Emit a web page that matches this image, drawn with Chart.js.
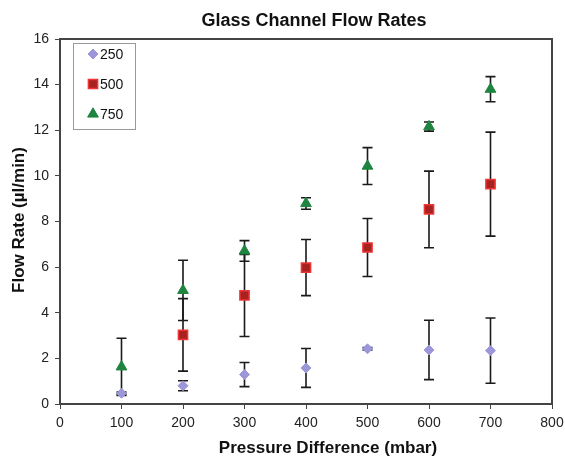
<!DOCTYPE html>
<html>
<head>
  <title>Glass Channel Flow Rates</title>
  <script src="https://cdn.jsdelivr.net/npm/chart.js"></script>
  <style>
    body { margin: 0; background: #fff; }
    #wrap { width: 565px; height: 456px; }
  </style>
</head>
<body>
  <div id="wrap"><canvas id="flowChart" width="565" height="456"></canvas></div>

  <script>
    // pressure difference (mbar)
    const pressures = [100, 200, 300, 400, 500, 600, 700];
    // flow rates (ul/min) and error half-widths
    const flow250 = [0.47, 0.80, 1.29, 1.58, 2.42, 2.37, 2.34];
    const err250  = [0.05, 0.22, 0.53, 0.85, 0.05, 1.30, 1.43];
    const flow500 = [null, 3.03, 4.76, 5.98, 6.86, 8.53, 9.64];
    const err500  = [null, 1.59, 1.80, 1.23, 1.27, 1.68, 2.28];
    const flow750 = [1.63, 4.98, 6.71, 8.79, 10.43, 12.16, 13.80];
    const err750  = [1.25, 1.32, 0.45, 0.25, 0.81, 0.20, 0.55];
    const xTicks = [0, 100, 200, 300, 400, 500, 600, 700, 800];
    const yTicks = [0, 2, 4, 6, 8, 10, 12, 14, 16];

    const font = "'Liberation Sans', Arial, sans-serif";

    function pts(vals, errs) {
      return pressures.map((p, i) => ({ x: p, y: vals[i], e: errs[i] }))
        .filter(d => d.y !== null);
    }

    // vertical error bars with caps, drawn under the markers
    const errorBars = {
      id: 'errorBars',
      beforeDatasetsDraw(chart) {
        const { ctx, scales: { x, y } } = chart;
        ctx.save();
        ctx.strokeStyle = '#1a1a1a';
        ctx.lineWidth = 1.6;
        chart.data.datasets.forEach(ds => {
          ds.data.forEach(d => {
            if (!d.e) return;
            const px = x.getPixelForValue(d.x);
            const top = y.getPixelForValue(d.y + d.e);
            const bot = y.getPixelForValue(d.y - d.e);
            ctx.beginPath();
            ctx.moveTo(px, top); ctx.lineTo(px, bot);
            ctx.moveTo(px - 5, top); ctx.lineTo(px + 5, top);
            ctx.moveTo(px - 5, bot); ctx.lineTo(px + 5, bot);
            ctx.stroke();
          });
        });
        ctx.restore();
      }
    };

    // frame, titles and boxed legend
    const decor = {
      id: 'decor',
      afterDraw(chart) {
        const { ctx, chartArea: a } = chart;
        ctx.save();
        ctx.strokeStyle = '#444';
        ctx.lineWidth = 2;
        ctx.strokeRect(a.left, a.top, a.right - a.left, a.bottom - a.top);

        ctx.fillStyle = '#111';
        ctx.textAlign = 'center';
        ctx.textBaseline = 'middle';
        ctx.font = 'bold 18px ' + font;
        ctx.fillText('Glass Channel Flow Rates', 314, 21);
        ctx.font = 'bold 17px ' + font;
        ctx.fillText('Pressure Difference (mbar)', 328, 448);
        ctx.save();
        ctx.translate(19, 220);
        ctx.rotate(-Math.PI / 2);
        ctx.fillText('Flow Rate (\u00b5l/min)', 0, 0);
        ctx.restore();

        // legend
        ctx.strokeStyle = '#999';
        ctx.lineWidth = 1;
        ctx.strokeRect(73.5, 43.5, 62, 86);
        ctx.font = '14px ' + font;
        ctx.textAlign = 'left';
        chart.data.datasets.forEach((ds, i) => {
          const cy = 54 + i * 30;
          ctx.fillStyle = ds.backgroundColor;
          ctx.strokeStyle = ds.borderColor;
          ctx.lineWidth = ds.borderWidth;
          Chart.helpers.drawPoint(ctx, { pointStyle: ds.pointStyle, radius: ds.pointRadius, borderWidth: ds.borderWidth }, 93, cy);
          ctx.fillStyle = '#111';
          ctx.fillText(ds.label, 100, cy + 1);
        });
        ctx.restore();
      }
    };

    new Chart(document.getElementById('flowChart'), {
      type: 'scatter',
      data: {
        datasets: [
          { label: '250', data: pts(flow250, err250), pointStyle: 'rectRot', pointRadius: 5,
            backgroundColor: '#9b97d9', borderColor: '#9b97d9', borderWidth: 1 },
          { label: '500', data: pts(flow500, err500), pointStyle: 'rect', pointRadius: 6.5,
            backgroundColor: '#a82222', borderColor: '#f03535', borderWidth: 1.5 },
          { label: '750', data: pts(flow750, err750), pointStyle: 'triangle', pointRadius: 6.2,
            backgroundColor: '#1e8440', borderColor: '#1e8440', borderWidth: 1 }
        ]
      },
      options: {
        responsive: false,
        animation: false,
        events: [],
        layout: { padding: { left: 0, right: 13, top: 39, bottom: 0 } },
        plugins: { legend: { display: false }, title: { display: false }, tooltip: { enabled: false } },
        scales: {
          x: {
            type: 'linear', min: 0, max: 800,
            afterFit(s) { s.height = 52; s.paddingLeft = 0; s.paddingRight = 0; },
            afterBuildTicks(s) { s.ticks = xTicks.map(v => ({ value: v })); },
            grid: { drawOnChartArea: false, drawTicks: true, tickLength: 5, color: '#444' },
            border: { display: true, color: '#444', width: 2 },
            ticks: { color: '#222', font: { family: font, size: 14 }, padding: 6, maxRotation: 0 }
          },
          y: {
            type: 'linear', min: 0, max: 16,
            afterFit(s) { s.width = 60; s.paddingTop = 0; s.paddingBottom = 0; },
            afterBuildTicks(s) { s.ticks = yTicks.map(v => ({ value: v })); },
            grid: { drawOnChartArea: false, drawTicks: true, tickLength: 5, color: '#444' },
            border: { display: true, color: '#444', width: 2 },
            ticks: { color: '#222', font: { family: font, size: 14 }, padding: 6 }
          }
        }
      },
      plugins: [errorBars, decor]
    });
  </script>
</body>
</html>
